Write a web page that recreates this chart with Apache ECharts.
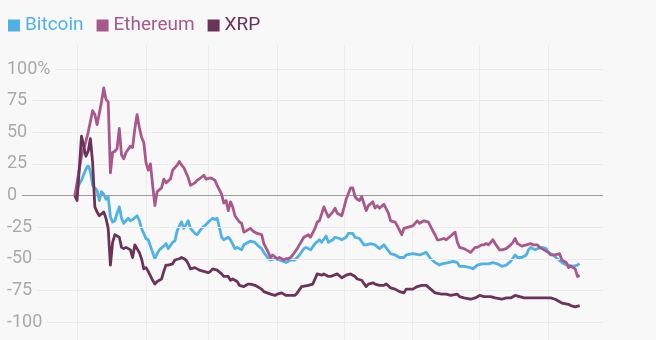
<!DOCTYPE html>
<html>
<head>
<meta charset="utf-8">
<script src="https://cdn.jsdelivr.net/npm/echarts@6/dist/echarts.min.js"></script>
<style>
  html, body { margin: 0; padding: 0; background: #f8f8f8; }
  #chart { width: 656px; height: 340px; }
</style>
</head>
<body>
<div id="chart"></div>
<script>
// Percent change since 31 Dec 2017, 2018 crypto prices
const seriesNames = ['Bitcoin', 'Ethereum', 'XRP'];
const seriesColors = ['#4fb2e4', '#a9588b', '#6c3358'];

// Daily categories spanning the plotted window
const firstDay = Date.UTC(2017, 11, 1);
const dayCount = 268;
const makeDays = n => {
  const out = [];
  for (let i = 0; i < n; i++) {
    out.push(new Date(firstDay + i * 86400000).toISOString().slice(0, 10));
  }
  return out;
};
const categories = makeDays(dayCount);
// one extra day so the month gridlines sit on day points
const gridDays = makeDays(dayCount + 1);

const yTicks = [-100, -75, -50, -25, 0, 25, 50, 75, 100];

const bitcoin = [
  ['2017-12-31',0],['2018-01-02',9],['2018-01-03',12],['2018-01-05',21],['2018-01-06',24],['2018-01-07',19],['2018-01-08',8],['2018-01-09',6],['2018-01-10',4],['2018-01-11',-4],['2018-01-12',3],['2018-01-13',1],['2018-01-14',-3],['2018-01-15',-1],['2018-01-16',-17],['2018-01-17',-21],['2018-01-18',-20],['2018-01-19',-14],['2018-01-20',-9],['2018-01-21',-18],['2018-01-22',-22],['2018-01-24',-18],['2018-01-25',-20],['2018-01-26',-19],['2018-01-28',-16],['2018-01-29',-20],['2018-01-30',-26],['2018-01-31',-30],
  ['2018-02-01',-34],['2018-02-02',-35],['2018-02-03',-40],['2018-02-04',-45],['2018-02-05',-50],['2018-02-06',-46],['2018-02-07',-43],['2018-02-09',-40],['2018-02-10',-38],['2018-02-11',-42],['2018-02-13',-37],['2018-02-14',-36],['2018-02-15',-28],['2018-02-16',-24],['2018-02-17',-21],['2018-02-18',-26],['2018-02-19',-23],['2018-02-20',-20],['2018-02-21',-26],['2018-02-23',-30],['2018-02-24',-31],['2018-02-26',-26],['2018-02-28',-23],
  ['2018-03-01',-21],['2018-03-03',-18],['2018-03-04',-19],['2018-03-05',-18],['2018-03-06',-25],['2018-03-07',-33],['2018-03-08',-35],['2018-03-10',-33],['2018-03-11',-35],['2018-03-13',-42],['2018-03-14',-41],['2018-03-16',-43],['2018-03-17',-39],['2018-03-19',-37],['2018-03-20',-36],['2018-03-22',-37],['2018-03-23',-39],['2018-03-25',-42],['2018-03-26',-45],['2018-03-28',-50],['2018-03-29',-51],['2018-03-31',-50],
  ['2018-04-02',-51],['2018-04-05',-53],['2018-04-07',-51],['2018-04-09',-51],['2018-04-11',-47],['2018-04-13',-42],['2018-04-14',-41],['2018-04-16',-43],['2018-04-18',-38],['2018-04-20',-35],['2018-04-21',-37],['2018-04-23',-32],['2018-04-24',-37],['2018-04-26',-35],['2018-04-27',-33],['2018-04-29',-34],['2018-04-30',-35],
  ['2018-05-02',-33],['2018-05-03',-30],['2018-05-05',-30],['2018-05-06',-33],['2018-05-08',-34],['2018-05-10',-39],['2018-05-11',-39],['2018-05-13',-38],['2018-05-15',-39],['2018-05-17',-42],['2018-05-19',-39],['2018-05-22',-46],['2018-05-24',-47],['2018-05-26',-49],['2018-05-28',-49],['2018-05-29',-47],
  ['2018-06-01',-46],['2018-06-04',-47],['2018-06-07',-45],['2018-06-09',-50],['2018-06-11',-53],['2018-06-13',-55],['2018-06-14',-54],['2018-06-17',-53],['2018-06-19',-52],['2018-06-21',-53],['2018-06-22',-56],['2018-06-24',-56],['2018-06-27',-57],['2018-06-28',-58],['2018-06-30',-55],
  ['2018-07-02',-54],['2018-07-05',-54],['2018-07-07',-53],['2018-07-09',-54],['2018-07-11',-56],['2018-07-13',-55],['2018-07-15',-52],['2018-07-17',-47],['2018-07-18',-49],['2018-07-20',-49],['2018-07-22',-47],['2018-07-23',-43],['2018-07-24',-41],['2018-07-26',-43],['2018-07-27',-42],['2018-07-29',-41],['2018-07-31',-42],
  ['2018-08-01',-45],['2018-08-03',-47],['2018-08-05',-50],['2018-08-07',-53],['2018-08-08',-54],['2018-08-10',-55],['2018-08-12',-56],['2018-08-14',-55],['2018-08-15',-54]
];

const ethereum = [
  ['2017-12-31',0],['2018-01-01',10],['2018-01-03',31],['2018-01-05',43],['2018-01-06',50],['2018-01-08',67],['2018-01-09',64],['2018-01-10',56],['2018-01-12',74],['2018-01-13',85],['2018-01-14',76],['2018-01-15',74],['2018-01-16',18],['2018-01-17',34],['2018-01-18',35],['2018-01-19',37],['2018-01-20',53],['2018-01-21',32],['2018-01-22',29],['2018-01-23',34],['2018-01-25',39],['2018-01-26',38],['2018-01-27',53],['2018-01-28',64],['2018-01-29',54],['2018-01-30',46],['2018-01-31',42],
  ['2018-02-01',26],['2018-02-02',20],['2018-02-03',25],['2018-02-04',8],['2018-02-05',-8],['2018-02-06',3],['2018-02-08',6],['2018-02-09',13],['2018-02-10',10],['2018-02-12',13],['2018-02-13',20],['2018-02-15',24],['2018-02-16',27],['2018-02-17',24],['2018-02-18',22],['2018-02-20',14],['2018-02-21',8],['2018-02-23',10],['2018-02-24',12],['2018-02-25',13],['2018-02-27',16],['2018-02-28',13],
  ['2018-03-02',14],['2018-03-03',13],['2018-03-04',12],['2018-03-05',8],['2018-03-07',1],['2018-03-08',-6],['2018-03-09',-4],['2018-03-10',-12],['2018-03-11',-5],['2018-03-12',-9],['2018-03-13',-16],['2018-03-15',-21],['2018-03-16',-22],['2018-03-17',-29],['2018-03-19',-27],['2018-03-20',-26],['2018-03-21',-28],['2018-03-23',-30],['2018-03-25',-31],['2018-03-26',-38],['2018-03-28',-45],['2018-03-29',-49],['2018-03-30',-47],
  ['2018-04-01',-50],['2018-04-02',-49],['2018-04-04',-51],['2018-04-05',-50],['2018-04-06',-50],['2018-04-07',-49],['2018-04-08',-47],['2018-04-10',-42],['2018-04-12',-36],['2018-04-13',-33],['2018-04-15',-31],['2018-04-16',-33],['2018-04-18',-26],['2018-04-19',-21],['2018-04-20',-20],['2018-04-22',-9],['2018-04-23',-13],['2018-04-24',-17],['2018-04-26',-13],['2018-04-27',-10],['2018-04-28',-14],['2018-04-30',-16],
  ['2018-05-01',-10],['2018-05-02',-3],['2018-05-04',6],['2018-05-05',6],['2018-05-06',-1],['2018-05-07',-3],['2018-05-08',-4],['2018-05-09',-1],['2018-05-11',-12],['2018-05-12',-8],['2018-05-14',-5],['2018-05-15',-10],['2018-05-16',-8],['2018-05-17',-10],['2018-05-19',-7],['2018-05-21',-14],['2018-05-22',-20],['2018-05-24',-21],['2018-05-25',-24],['2018-05-27',-31],['2018-05-28',-26],['2018-05-30',-25],
  ['2018-06-01',-24],['2018-06-02',-22],['2018-06-03',-20],['2018-06-04',-22],['2018-06-06',-20],['2018-06-08',-21],['2018-06-10',-28],['2018-06-11',-31],['2018-06-12',-35],['2018-06-13',-35],['2018-06-15',-34],['2018-06-16',-35],['2018-06-18',-32],['2018-06-20',-29],['2018-06-21',-37],['2018-06-22',-41],['2018-06-24',-42],['2018-06-25',-43],['2018-06-27',-45],['2018-06-29',-41],['2018-06-30',-41],
  ['2018-07-02',-39],['2018-07-03',-39],['2018-07-04',-38],['2018-07-05',-39],['2018-07-07',-35],['2018-07-08',-38],['2018-07-10',-43],['2018-07-11',-43],['2018-07-13',-42],['2018-07-15',-39],['2018-07-16',-37],['2018-07-17',-34],['2018-07-18',-38],['2018-07-20',-40],['2018-07-22',-39],['2018-07-24',-38],['2018-07-25',-39],['2018-07-27',-39],['2018-07-28',-41],['2018-07-30',-43],
  ['2018-08-01',-45],['2018-08-02',-47],['2018-08-04',-47],['2018-08-06',-46],['2018-08-07',-51],['2018-08-09',-53],['2018-08-10',-57],['2018-08-11',-56],['2018-08-13',-58],['2018-08-14',-64],['2018-08-15',-63]
];

const xrp = [
  ['2017-12-31',0],['2018-01-01',-4],['2018-01-02',21],['2018-01-03',47],['2018-01-05',31],['2018-01-06',35],['2018-01-07',45],['2018-01-08',26],['2018-01-09',-9],['2018-01-10',-13],['2018-01-11',-16],['2018-01-13',-13],['2018-01-14',-18],['2018-01-15',-26],['2018-01-16',-55],['2018-01-17',-37],['2018-01-18',-31],['2018-01-20',-33],['2018-01-21',-41],['2018-01-22',-42],['2018-01-23',-41],['2018-01-25',-43],['2018-01-26',-49],['2018-01-27',-39],['2018-01-29',-45],['2018-01-30',-50],['2018-01-31',-58],
  ['2018-02-01',-57],['2018-02-02',-60],['2018-02-04',-67],['2018-02-05',-70],['2018-02-06',-68],['2018-02-08',-66],['2018-02-09',-60],['2018-02-10',-55],['2018-02-11',-55],['2018-02-13',-54],['2018-02-14',-51],['2018-02-16',-50],['2018-02-17',-49],['2018-02-19',-51],['2018-02-20',-54],['2018-02-21',-58],['2018-02-23',-57],['2018-02-25',-59],['2018-02-27',-60],
  ['2018-03-01',-61],['2018-03-02',-60],['2018-03-03',-58],['2018-03-05',-59],['2018-03-07',-62],['2018-03-08',-64],['2018-03-10',-64],['2018-03-11',-67],['2018-03-12',-66],['2018-03-14',-68],['2018-03-15',-71],['2018-03-17',-72],['2018-03-19',-70],['2018-03-20',-70],['2018-03-22',-71],['2018-03-23',-72],['2018-03-25',-74],['2018-03-26',-76],['2018-03-29',-78],['2018-03-31',-79],
  ['2018-04-01',-78],['2018-04-03',-77],['2018-04-05',-79],['2018-04-07',-79],['2018-04-09',-79],['2018-04-10',-77],['2018-04-12',-72],['2018-04-15',-71],['2018-04-17',-70],['2018-04-19',-62],['2018-04-21',-63],['2018-04-22',-62],['2018-04-24',-64],['2018-04-25',-64],['2018-04-28',-62],['2018-04-30',-65],
  ['2018-05-02',-63],['2018-05-04',-62],['2018-05-06',-64],['2018-05-07',-66],['2018-05-09',-67],['2018-05-11',-72],['2018-05-12',-70],['2018-05-14',-69],['2018-05-15',-70],['2018-05-17',-71],['2018-05-19',-71],['2018-05-20',-70],['2018-05-22',-73],['2018-05-24',-74],['2018-05-26',-76],['2018-05-28',-77],['2018-05-29',-74],
  ['2018-06-01',-74],['2018-06-03',-72],['2018-06-05',-71],['2018-06-07',-71],['2018-06-09',-74],['2018-06-11',-77],['2018-06-14',-78],['2018-06-16',-78],['2018-06-18',-79],['2018-06-21',-78],['2018-06-22',-80],['2018-06-24',-81],['2018-06-27',-82],['2018-06-29',-81],
  ['2018-07-01',-79],['2018-07-03',-80],['2018-07-06',-80],['2018-07-08',-81],['2018-07-11',-82],['2018-07-13',-81],['2018-07-15',-81],['2018-07-17',-79],['2018-07-19',-80],['2018-07-21',-81],['2018-07-24',-81],['2018-07-27',-81],['2018-07-30',-81],
  ['2018-08-02',-81],['2018-08-04',-82],['2018-08-06',-84],['2018-08-07',-85],['2018-08-10',-86],['2018-08-11',-87],['2018-08-13',-88],['2018-08-15',-87]
];

const seriesData = [bitcoin, ethereum, xrp];

const bg = '#f8f8f8';
const gridColor = '#ebebeb';
const zeroColor = '#9a9a9a';

// month-start gridlines (skip the left edge)
const monthStart = (idx, val) => idx > 0 && typeof val === 'string' && val.slice(8) === '01';

const chart = echarts.init(document.getElementById('chart'), null, { renderer: 'canvas' });
chart.setOption({
  backgroundColor: bg,
  animation: false,
  textStyle: { fontFamily: 'Roboto' },
  legend: {
    left: 8,
    top: 16,
    padding: 0,
    icon: 'rect',
    itemWidth: 12,
    itemHeight: 12,
    itemGap: 13,
    textStyle: { fontSize: 19, fontFamily: 'Roboto' },
    data: seriesNames.map((n, i) => ({ name: n, textStyle: { color: seriesColors[i] } }))
  },
  grid: [
    { left: 7, right: 53, top: 69, bottom: 18 },
    { left: 8, right: 52, top: 45, bottom: 0 }
  ],
  xAxis: [
    {
      type: 'category', gridIndex: 0, data: categories, boundaryGap: true,
      axisLine: { show: false }, axisTick: { show: false }, axisLabel: { show: false },
      splitLine: { show: false }
    },
    {
      type: 'category', gridIndex: 1, data: gridDays, boundaryGap: false,
      axisLine: { show: false }, axisTick: { show: false }, axisLabel: { show: false },
      splitLine: { show: true, interval: monthStart, lineStyle: { color: gridColor, width: 1 } }
    }
  ],
  yAxis: [
    {
      type: 'value', gridIndex: 0, min: yTicks[0], max: yTicks[yTicks.length - 1], interval: 25,
      z: 3,
      axisLine: { show: false }, axisTick: { show: false },
      axisLabel: {
        inside: true, margin: 0, align: 'left',
        color: '#aaaaaa', fontSize: 18, fontFamily: 'Roboto',
        backgroundColor: bg, padding: [2, 5, 2, 0],
        formatter: v => (v === 100 ? '100%' : String(v))
      },
      splitLine: {
        show: true,
        lineStyle: { width: 1, color: yTicks.map(v => (v === 0 ? zeroColor : gridColor)) }
      }
    },
    {
      type: 'value', gridIndex: 1, min: 0, max: 1,
      axisLine: { show: false }, axisTick: { show: false }, axisLabel: { show: false },
      splitLine: { show: false }
    }
  ],
  series: seriesNames.map((n, i) => ({
    name: n,
    type: 'line',
    xAxisIndex: 0,
    yAxisIndex: 0,
    data: seriesData[i],
    showSymbol: false,
    symbol: 'none',
    color: seriesColors[i],
    lineStyle: { width: 2.8, color: seriesColors[i], join: 'round' },
    z: 2 + i
  }))
});
</script>
</body>
</html>
